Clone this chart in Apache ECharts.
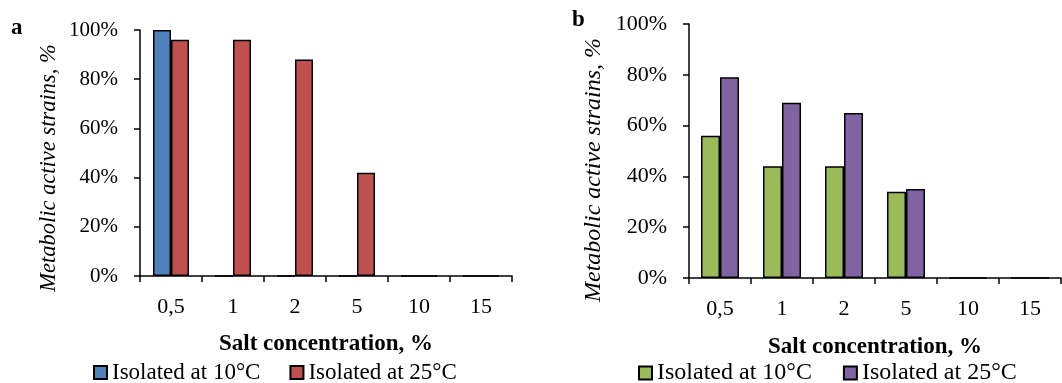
<!DOCTYPE html>
<html>
<head>
<meta charset="utf-8">
<script src="https://cdn.jsdelivr.net/npm/echarts@6/dist/echarts.min.js"></script>
<style>
  html, body { margin: 0; padding: 0; background: #fff; }
  .panel { position: absolute; top: 0; width: 531px; height: 383px; }
</style>
</head>
<body>
<div id="chartA" class="panel" style="left:0"></div>
<div id="chartB" class="panel" style="left:531px"></div>
<script>
// 盐浓度类别
const categories = ['0,5', '1', '2', '5', '10', '15'];
const seriesNames = ['Isolated at 10°C', 'Isolated at 25°C'];

// a 图数据（%）
const a10 = [100, 0, 0, 0, 0, 0];
const a25 = [96, 96, 88, 42, 0, 0];

// b 图数据（%）
const b10 = [56, 44, 44, 34, 0, 0];
const b25 = [79, 69, 65, 35, 0, 0];

const yTicks = [0, 20, 40, 60, 80, 100];

const FONT = "'Liberation Serif', 'Times New Roman', serif";

function buildOption(cfg) {
    return {
        animation: false,
        textStyle: { fontFamily: FONT, color: '#000' },
        grid: cfg.grid,
        legend: {
            left: cfg.legendLeft,
            top: 361,
            padding: 0,
            itemWidth: 13,
            itemHeight: 13,
            itemGap: cfg.legendGap,
            icon: 'rect',
            data: seriesNames,
            textStyle: { fontFamily: FONT, fontSize: cfg.legendSize, color: '#000' }
        },
        graphic: [
            {
                type: 'text',
                left: cfg.tagX,
                top: cfg.tagY,
                style: { text: cfg.tag, font: "bold 23px " + FONT, fill: '#000' }
            },
            {
                type: 'text',
                x: cfg.yTitleX,
                y: cfg.yTitleY,
                rotation: Math.PI / 2,
                style: {
                    text: 'Metabolic active strains, %',
                    font: "italic " + cfg.yTitleSize + "px " + FONT,
                    fill: '#000',
                    align: 'center',
                    verticalAlign: 'middle'
                }
            }
        ],
        xAxis: {
            type: 'category',
            data: categories,
            name: 'Salt concentration, %',
            nameLocation: 'middle',
            nameGap: cfg.xNameGap,
            nameTextStyle: { fontFamily: FONT, fontSize: 23, fontWeight: 'bold', color: '#000' },
            axisLine: { lineStyle: { color: '#000', width: 1.5 } },
            axisTick: { show: true, length: 6, lineStyle: { color: '#000', width: 1.5 } },
            axisLabel: { fontFamily: FONT, fontSize: 22, color: '#000', margin: 20 }
        },
        yAxis: {
            type: 'value',
            min: yTicks[0],
            max: yTicks[yTicks.length - 1],
            interval: 20,
            axisLine: { show: true, lineStyle: { color: '#000', width: 1.5 } },
            axisTick: { show: true, length: 6, lineStyle: { color: '#000', width: 1.5 } },
            axisLabel: { fontFamily: FONT, fontSize: cfg.yLabelSize, color: '#000', margin: 22, formatter: '{value}%' },
            splitLine: { show: false }
        },
        series: [
            {
                name: seriesNames[0],
                type: 'bar',
                data: cfg.d10,
                barWidth: cfg.barWidth,
                barGap: '0%',
                itemStyle: { color: cfg.c10, borderColor: '#000', borderWidth: 1.5 }
            },
            {
                name: seriesNames[1],
                type: 'bar',
                data: cfg.d25,
                barWidth: cfg.barWidth,
                barGap: '0%',
                itemStyle: { color: cfg.c25, borderColor: '#000', borderWidth: 1.5 }
            }
        ]
    };
}

const chartA = echarts.init(document.getElementById('chartA'));
chartA.setOption(buildOption({
    grid: { left: 140, top: 30, width: 372, height: 246 },
    legendLeft: 93, legendGap: 29, legendSize: 23,
    tag: 'a', tagX: 11, tagY: 17,
    yTitleX: 49, yTitleY: 168, yTitleSize: 22.5,
    yLabelSize: 21,
    xNameGap: 57,
    barWidth: 18,
    d10: a10, d25: a25,
    c10: '#4F81BD', c25: '#C0504D'
}));

const chartB = echarts.init(document.getElementById('chartB'));
chartB.setOption(buildOption({
    grid: { left: 158, top: 24, width: 372, height: 254 },
    legendLeft: 107, legendGap: 31, legendSize: 24,
    tag: 'b', tagX: 41, tagY: 9,
    yTitleX: 63, yTitleY: 170, yTitleSize: 24,
    yLabelSize: 22,
    xNameGap: 58,
    barWidth: 19,
    d10: b10, d25: b25,
    c10: '#9BBB59', c25: '#8064A2'
}));

window.addEventListener('resize', () => {
    chartA.resize();
    chartB.resize();
});
</script>
</body>
</html>
